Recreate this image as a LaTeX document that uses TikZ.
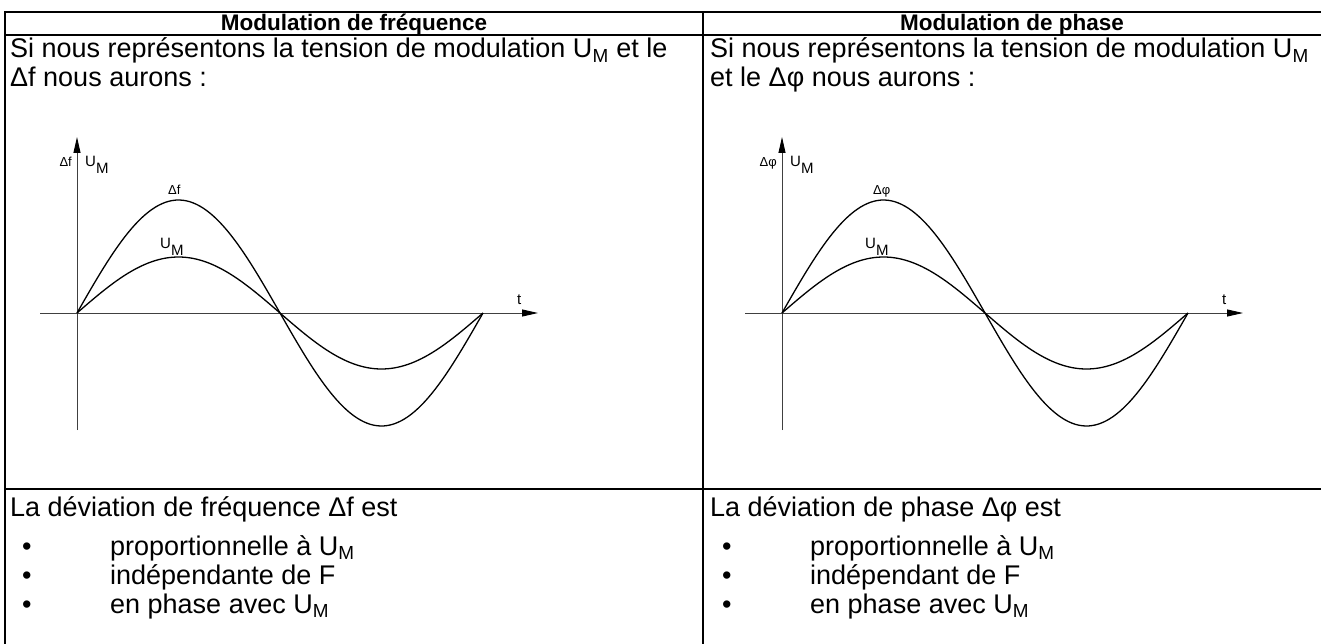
\documentclass[tikz,border=0pt]{standalone}
\usepackage{fontspec}
\setmainfont{Liberation Sans}
\usetikzlibrary{arrows.meta}

\newcommand{\UMlbl}{U\raisebox{-7pt}{M}}
\newcommand{\UMtxt}{U\textsubscript{M}}

\begin{document}
\begin{tikzpicture}[x=1pt,y=-1pt,
    txt/.style={anchor=base west,inner sep=0pt,font=\fontsize{27}{30}\selectfont},
    head/.style={anchor=base,inner sep=0pt,font=\fontsize{22.5}{26}\selectfont\bfseries},
    lbl/.style={anchor=base west,inner sep=0pt,font=\fontsize{15}{17}\selectfont},
    small/.style={anchor=base west,inner sep=0pt,font=\fontsize{13}{15}\selectfont},
    rule/.style={line width=1.6pt},
    axis/.style={line width=0.9pt,black!75,-{Triangle[length=16pt,width=7pt,black]}},
    wave/.style={line width=1.3pt}]
  \useasboundingbox (0,0) rectangle (1321,644);
  % table
  \draw[rule] (5,644) -- (5,12) -- (1321,12);
  \draw[rule] (5,35) -- (1321,35);
  \draw[rule] (5,489) -- (1321,489);
  \draw[rule] (703,12) -- (703,644);
  \node[head] (hf) at (354,31) {Modulation de fréquence};
  \node[head] (hp) at (1012,31) {Modulation de phase};
  % texts
  \node[txt] (sf1) at (10,58) {Si nous représentons la tension de modulation \UMtxt{} et le};
  \node[txt] (sf2) at (10,87) {Δf nous aurons :};
  \node[txt] (sp1) at (710,58) {Si nous représentons la tension de modulation \UMtxt};
  \node[txt] (sp2) at (710,87) {et le Δφ nous aurons :};
  \node[txt] (df) at (10,516) {La déviation de fréquence Δf est};
  \node[txt] (dp) at (710,516) {La déviation de phase Δφ est};
  \foreach \dx/\g in {0/f,700/p}{
    \node[txt] (\g b1) at (22+\dx,555) {•};
    \node[txt] (\g b2) at (22+\dx,584) {•};
    \node[txt] (\g b3) at (22+\dx,613) {•};
    \node[txt] (\g t1) at (110+\dx,555) {proportionnelle à \UMtxt};
    \node[txt] (\g t3) at (110+\dx,613) {en phase avec \UMtxt};
  }
  \node[txt] (ft2) at (110,584) {indépendante de F};
  \node[txt] (pt2) at (810,584) {indépendant de F};
  % graphs
  \foreach \dx/\g/\d in {0/f/Δf,705/p/Δφ}{
    \coordinate (\g O) at (77+\dx,313);
    \coordinate (\g Y0) at (77+\dx,430);
    \coordinate (\g Y1) at (77+\dx,137);
    \coordinate (\g X0) at (40+\dx,313);
    \coordinate (\g X1) at (538+\dx,313);
    \draw[axis] (\g Y0) -- (\g Y1);
    \draw[axis] (\g X0) -- (\g X1);
    \draw[wave] plot[domain=0:406,samples=120] ({77+\dx+\x},{313-113*sin(\x/406*360)});
    \draw[wave] plot[domain=0:406,samples=120] ({77+\dx+\x},{313-56*sin(\x/406*360)});
    \node[small,anchor=base east] (\g ya) at (72+\dx,167) {\d};
    \node[lbl] (\g yb) at (85+\dx,167) {\UMlbl};
    \node[lbl] (\g t) at (517+\dx,304) {t};
    \node[small] (\g pk) at (168+\dx,195) {\d};
    \node[lbl] (\g um) at (160+\dx,248) {\UMlbl};
  }
\end{tikzpicture}
\end{document}
